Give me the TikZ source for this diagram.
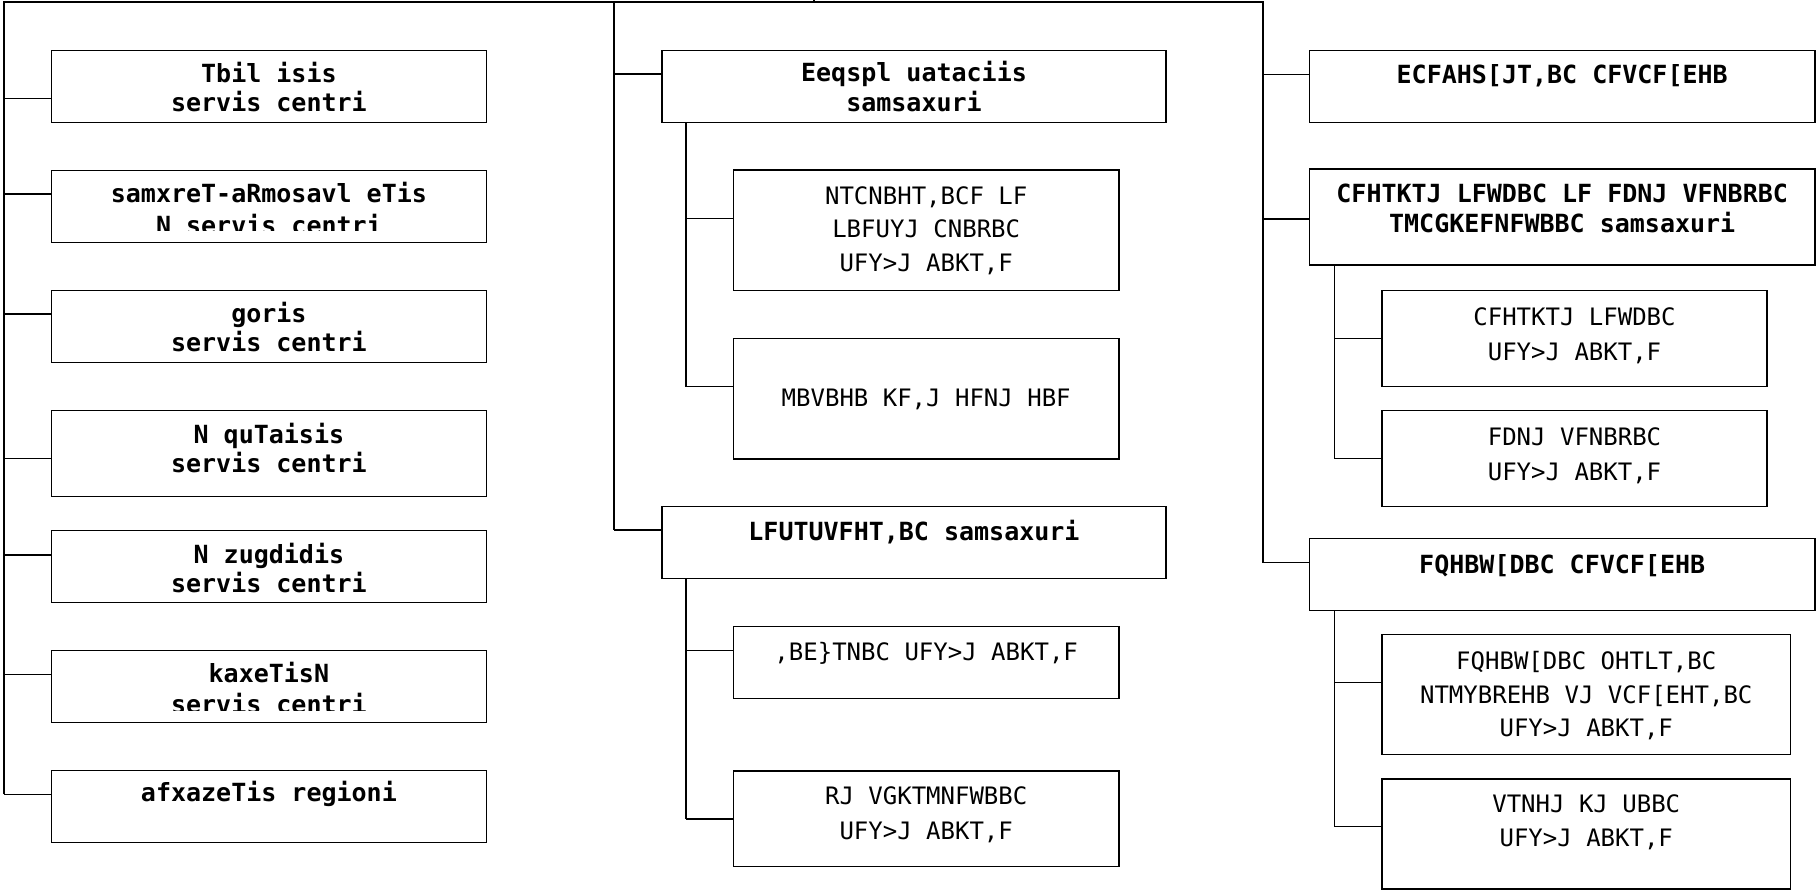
\documentclass[tikz,border=0pt]{standalone}
\usepackage{fontspec}
\newfontfamily\monofam{DejaVu Sans Mono}
\usetikzlibrary{calc}
\newcommand\bfnt{\monofam\bfseries\fontsize{25}{30}\selectfont}
\newcommand\rgfnt{\monofam\fontsize{24}{34}\selectfont}
\begin{document}
\begin{tikzpicture}[x=1pt,y=-1pt,
  bx/.style={draw, line width=1.5pt, inner sep=0pt, outer sep=0pt, anchor=north west},
  ln/.style={line width=1.5pt},
  bt/.style={font=\bfnt, anchor=base, inner sep=0pt},
  rt/.style={font=\rgfnt, anchor=base, inner sep=0pt}]
\useasboundingbox (0,0) rectangle (1816,891);
\fill[white] (0,0) rectangle (1816,891);

% ---------- boxes ----------
% left column
\node[bx, minimum width=435pt, minimum height=72pt] (L1) at (51.4,50.7) {};
\node[bx, minimum width=435pt, minimum height=72pt] (L2) at (51.4,170.7) {};
\node[bx, minimum width=435pt, minimum height=72pt] (L3) at (51.4,290.7) {};
\node[bx, minimum width=435pt, minimum height=86pt] (L4) at (51.4,410.7) {};
\node[bx, minimum width=435pt, minimum height=72pt] (L5) at (51.4,530.7) {};
\node[bx, minimum width=435pt, minimum height=72pt] (L6) at (51.4,650.7) {};
\node[bx, minimum width=435pt, minimum height=72pt] (L7) at (51.4,770.7) {};
% middle column
\node[bx, minimum width=504pt, minimum height=72pt] (M1) at (662,50.7) {};
\node[bx, minimum width=385.2pt, minimum height=120.7pt] (M1a) at (733.6,170) {};
\node[bx, minimum width=385.2pt, minimum height=120.7pt] (M1b) at (733.6,338.3) {};
\node[bx, minimum width=504pt, minimum height=71.6pt] (M2) at (662,506.7) {};
\node[bx, minimum width=385.2pt, minimum height=71.6pt] (M2a) at (733.6,626.7) {};
\node[bx, minimum width=385.2pt, minimum height=95.7pt] (M2b) at (733.6,771) {};
% right column
\node[bx, minimum width=505.2pt, minimum height=72pt] (R1) at (1309.6,50.7) {};
\node[bx, minimum width=505.2pt, minimum height=96pt] (R2) at (1309.6,169) {};
\node[bx, minimum width=385pt, minimum height=96pt] (R2a) at (1382,290.7) {};
\node[bx, minimum width=385pt, minimum height=96pt] (R2b) at (1382,410.7) {};
\node[bx, minimum width=505.2pt, minimum height=72pt] (R3) at (1309.6,538.7) {};
\node[bx, minimum width=408.5pt, minimum height=120pt] (R3a) at (1382,634.3) {};
\node[bx, minimum width=408.5pt, minimum height=110pt] (R3b) at (1382,779) {};

% ---------- connector points ----------
\coordinate (root) at (814,0);
\coordinate (tL) at (4,2);
\coordinate (tM) at (614,2);
\coordinate (tR) at (1263,2);
\coordinate (Lc1) at ($(L1.north west)+(0,48)$);
\coordinate (Lc2) at ($(L2.north west)+(0,23.3)$);
\coordinate (Lc3) at ($(L3.north west)+(0,23.3)$);
\coordinate (Lc4) at ($(L4.north west)+(0,47.6)$);
\coordinate (Lc5) at ($(L5.north west)+(0,24.3)$);
\coordinate (Lc6) at ($(L6.north west)+(0,24)$);
\coordinate (Lc7) at ($(L7.north west)+(0,23.6)$);
\coordinate (Mc1) at ($(M1.north west)+(0,23.5)$);
\coordinate (Mc2) at ($(M2.north west)+(0,23.3)$);
\coordinate (M1ac) at ($(M1a.north west)+(0,48.3)$);
\coordinate (M1bc) at ($(M1b.north west)+(0,48.4)$);
\coordinate (M2ac) at ($(M2a.north west)+(0,24)$);
\coordinate (M2bc) at ($(M2b.north west)+(0,48)$);
\coordinate (sM1) at ($(M1.south west)+(24,0)$);
\coordinate (sM2) at ($(M2.south west)+(24,0)$);
\coordinate (Rc1) at ($(R1.north west)+(0,24)$);
\coordinate (Rc2) at ($(R2.north west)+(0,50)$);
\coordinate (Rc3) at ($(R3.north west)+(0,24)$);
\coordinate (R2ac) at ($(R2a.north west)+(0,47.6)$);
\coordinate (R2bc) at ($(R2b.north west)+(0,47.8)$);
\coordinate (R3ac) at ($(R3a.north west)+(0,48.4)$);
\coordinate (R3bc) at ($(R3b.north west)+(0,47.7)$);
\coordinate (sR2) at ($(R2.south west)+(25,0)$);
\coordinate (sR3) at ($(R3.south west)+(25,0)$);

% ---------- connectors ----------
\draw[ln] (root) -- (root |- tL);
\draw[ln] (tL |- Lc7) -- (tL) -- (tR) -- (tR |- Rc3);
\draw[ln] (tM) -- (tM |- Mc2);
\foreach \c in {Lc1,Lc2,Lc3,Lc4,Lc5,Lc6,Lc7} \draw[ln] (\c) -- (\c -| tL);
\foreach \c in {Mc1,Mc2} \draw[ln] (\c) -- (\c -| tM);
\foreach \c in {Rc1,Rc2,Rc3} \draw[ln] (\c) -- (\c -| tR);
\draw[ln] (sM1) -- (sM1 |- M1bc);
\draw[ln] (sM2) -- (sM2 |- M2bc);
\draw[ln] (sR2) -- (sR2 |- R2bc);
\draw[ln] (sR3) -- (sR3 |- R3bc);
\foreach \c in {M1ac,M1bc} \draw[ln] (\c) -- (\c -| sM1);
\foreach \c in {M2ac,M2bc} \draw[ln] (\c) -- (\c -| sM2);
\foreach \c in {R2ac,R2bc} \draw[ln] (\c) -- (\c -| sR2);
\foreach \c in {R3ac,R3bc} \draw[ln] (\c) -- (\c -| sR3);

% ---------- texts: left ----------
\node[bt] (L1t1) at ($(L1.north)+(0,31.5)$) {Tbil isis};
\node[bt] (L1t2) at ($(L1.north)+(0,61)$) {servis centri};
\node[bt] (L2t1) at ($(L2.north)+(0,31.5)$) {samxreT-aRmosavl eTis};
\begin{scope}
\clip ($(L2.north west)+(1,1)$) rectangle ($(L2.north east)+(-1,59.3)$);
\node[bt] (L2t2) at ($(L2.north)+(0,63.5)$) {N servis centri};
\end{scope}
\node[bt] (L3t1) at ($(L3.north)+(0,32)$) {goris};
\node[bt] (L3t2) at ($(L3.north)+(0,61)$) {servis centri};
\node[bt] (L4t1) at ($(L4.north)+(0,32.3)$) {N quTaisis};
\node[bt] (L4t2) at ($(L4.north)+(0,61.3)$) {servis centri};
\node[bt] (L5t1) at ($(L5.north)+(0,32.3)$) {N zugdidis};
\node[bt] (L5t2) at ($(L5.north)+(0,61.3)$) {servis centri};
\node[bt] (L6t1) at ($(L6.north)+(0,31.5)$) {kaxeTisN};
\begin{scope}
\clip ($(L6.north west)+(1,1)$) rectangle ($(L6.north east)+(-1,59.3)$);
\node[bt] (L6t2) at ($(L6.north)+(0,62.5)$) {servis centri};
\end{scope}
\node[bt] (L7t1) at ($(L7.north)+(0,31)$) {afxazeTis regioni};

% ---------- texts: middle ----------
\node[bt] (M1t1) at ($(M1.north)+(0,31)$) {Eeqspl uataciis};
\node[bt] (M1t2) at ($(M1.north)+(0,61)$) {samsaxuri};
\node[rt] (M1at1) at ($(M1a.north)+(0,34)$) {NTCNBHT,BCF LF};
\node[rt] (M1at2) at ($(M1a.north)+(0,67.5)$) {LBFUYJ CNBRBC};
\node[rt] (M1at3) at ($(M1a.north)+(0,101)$) {UFY>J ABKT,F};
\node[rt] (M1bt1) at ($(M1b.north)+(0,67.7)$) {MBVBHB KF,J HFNJ HBF};
\node[bt] (M2t1) at ($(M2.north)+(0,33.3)$) {LFUTUVFHT,BC samsaxuri};
\node[rt] (M2at1) at ($(M2a.north)+(0,34)$) {,BE\}TNBC UFY>J ABKT,F};
\node[rt] (M2bt1) at ($(M2b.north)+(0,33)$) {RJ VGKTMNFWBBC};
\node[rt] (M2bt2) at ($(M2b.north)+(0,68)$) {UFY>J ABKT,F};

% ---------- texts: right ----------
\node[bt] (R1t1) at ($(R1.north)+(0,33.3)$) {ECFAHS[JT,BC CFVCF[EHB};
\node[bt] (R2t1) at ($(R2.north)+(0,33.7)$) {CFHTKTJ LFWDBC LF FDNJ VFNBRBC};
\node[bt] (R2t2) at ($(R2.north)+(0,63.7)$) {TMCGKEFNFWBBC samsaxuri};
\node[rt] (R2at1) at ($(R2a.north)+(0,34.3)$) {CFHTKTJ LFWDBC};
\node[rt] (R2at2) at ($(R2a.north)+(0,69.3)$) {UFY>J ABKT,F};
\node[rt] (R2bt1) at ($(R2b.north)+(0,34.3)$) {FDNJ VFNBRBC};
\node[rt] (R2bt2) at ($(R2b.north)+(0,69.3)$) {UFY>J ABKT,F};
\node[bt] (R3t1) at ($(R3.north)+(0,34.6)$) {FQHBW[DBC CFVCF[EHB};
\node[rt] (R3at1) at ($(R3a.north)+(0,35)$) {FQHBW[DBC OHTLT,BC};
\node[rt] (R3at2) at ($(R3a.north)+(0,69)$) {NTMYBREHB VJ VCF[EHT,BC};
\node[rt] (R3at3) at ($(R3a.north)+(0,102)$) {UFY>J ABKT,F};
\node[rt] (R3bt1) at ($(R3b.north)+(0,33.7)$) {VTNHJ KJ UBBC};
\node[rt] (R3bt2) at ($(R3b.north)+(0,67.7)$) {UFY>J ABKT,F};
\end{tikzpicture}
\end{document}
